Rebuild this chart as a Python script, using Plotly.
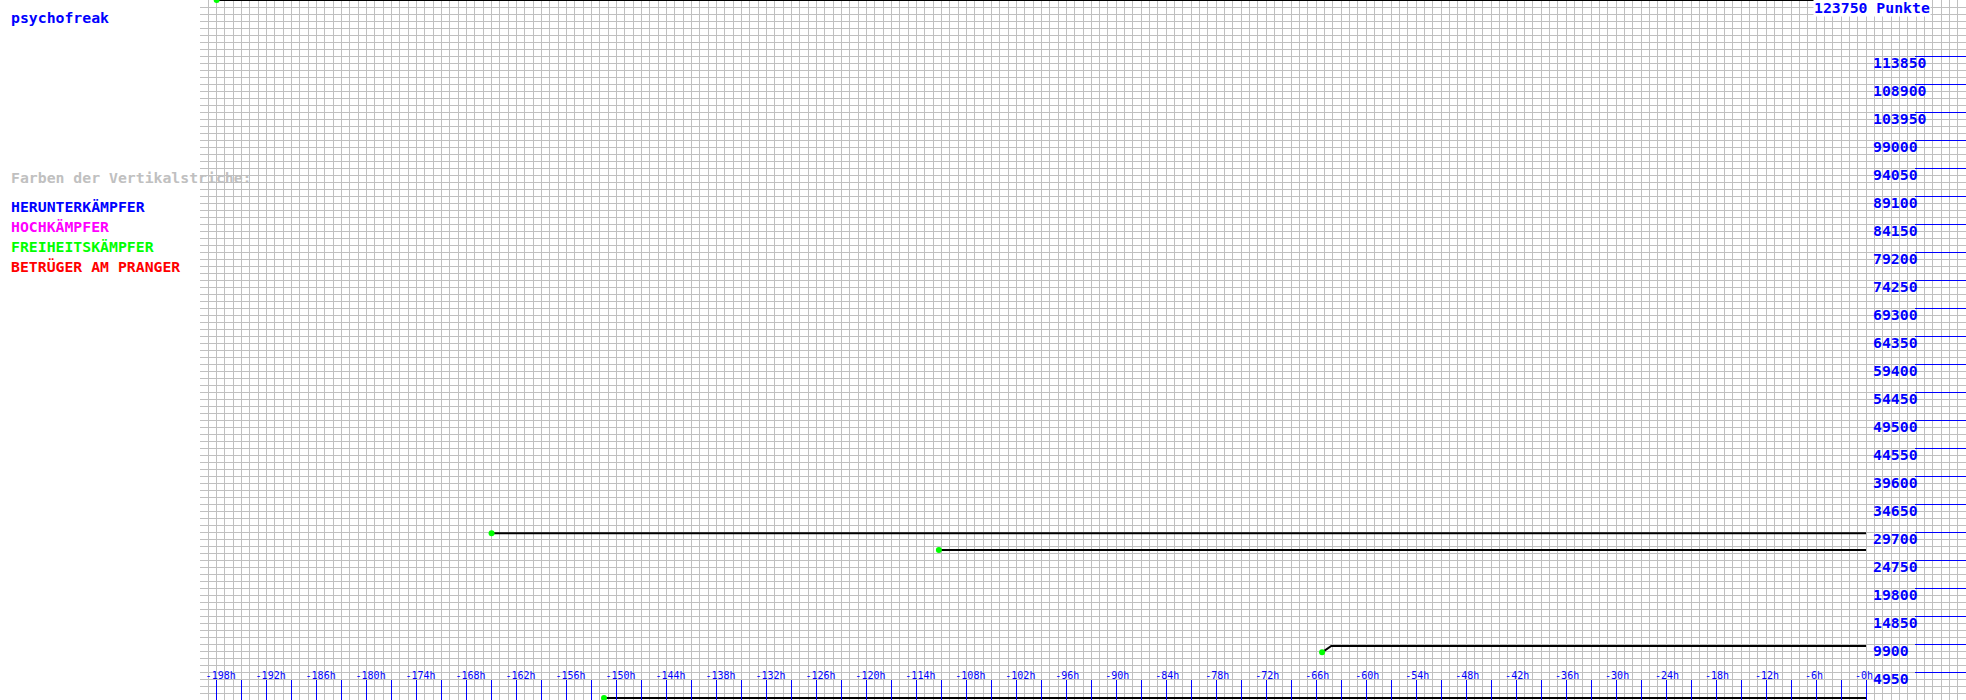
import plotly.graph_objects as go

# ---------------- data (hours before now, points) ----------------
line1_hours = [-198, 0]
line1_points = [123750, 123750]
line2_hours = [-165, 0]
line2_points = [29500, 29500]
line3_hours = [-111.3, 0]
line3_points = [26500, 26500]
line4_hours = [-65.3, -64.2, 0]
line4_points = [8430, 9550, 9550]
line5_hours = [-151.5, 0]
line5_points = [350, 350]

x_tick_hours = [-198, -195, -192, -189, -186, -183, -180, -177, -174, -171, -168, -165,
                -162, -159, -156, -153, -150, -147, -144, -141, -138, -135, -132, -129,
                -126, -123, -120, -117, -114, -111, -108, -105, -102, -99, -96, -93,
                -90, -87, -84, -81, -78, -75, -72, -69, -66, -63, -60, -57, -54, -51,
                -48, -45, -42, -39, -36, -33, -30, -27, -24, -21, -18, -15, -12, -9,
                -6, -3, 0]
x_label_hours = [-198, -192, -186, -180, -174, -168, -162, -156, -150, -144, -138, -132,
                 -126, -120, -114, -108, -102, -96, -90, -84, -78, -72, -66, -60, -54,
                 -48, -42, -36, -30, -24, -18, -12, -6, 0]
x_label_text = ["-198h", "-192h", "-186h", "-180h", "-174h", "-168h", "-162h", "-156h",
                "-150h", "-144h", "-138h", "-132h", "-126h", "-120h", "-114h", "-108h",
                "-102h", "-96h", "-90h", "-84h", "-78h", "-72h", "-66h", "-60h", "-54h",
                "-48h", "-42h", "-36h", "-30h", "-24h", "-18h", "-12h", "-6h", "-0h"]

y_tick_points = [4950, 9900, 14850, 19800, 24750, 29700, 34650, 39600, 44550, 49500,
                 54450, 59400, 64350, 69300, 74250, 79200, 84150, 89100, 94050, 99000,
                 103950, 108900, 113850]
y_max_points = 123750

player_name = "psychofreak"
legend_title = "Farben der Vertikalstriche:"
legend_items = ["HERUNTERKÄMPFER", "HOCHKÄMPFER", "FREIHEITSKÄMPFER", "BETRÜGER AM PRANGER"]
legend_colors = ["#0000ff", "#ff00ff", "#00ff00", "#ff0000"]

# ---------------- figure ----------------
MONO = "DejaVu Sans Mono"
BLUE = "#0000ff"
GRID = "#c0c0c0"
W, H, L = 1966, 700, 200
PW = W - L

fig = go.Figure()
series = [(line1_hours, line1_points), (line2_hours, line2_points),
          (line3_hours, line3_points), (line4_hours, line4_points),
          (line5_hours, line5_points)]
for hx, py in series:
    fig.add_trace(go.Scatter(x=hx, y=py, mode="lines",
                             line=dict(color="#000000", width=2),
                             hoverinfo="skip"))
fig.add_trace(go.Scatter(x=[s[0][0] for s in series], y=[s[1][0] for s in series],
                         mode="markers",
                         marker=dict(color="#00ff00", size=6, line=dict(width=0)),
                         hoverinfo="skip"))
# carrier trace for the label-only axes
fig.add_trace(go.Scatter(x=line1_hours, y=line1_points, mode="none",
                         xaxis="x2", yaxis="y2", hoverinfo="skip"))

# pad x labels to equal width so they all start at the same offset from the tick
x_ticktext = [t + "\u00a0" * (5 - len(t)) for t in x_label_text]

x_range = [-200, 12]
y_range = [0, y_max_points]

fig.update_layout(
    width=W, height=H,
    margin=dict(l=L, r=0, t=0, b=0, pad=0),
    paper_bgcolor="white", plot_bgcolor="white",
    showlegend=False,
    xaxis=dict(range=x_range, tickmode="array", tickvals=x_tick_hours,
               showticklabels=False, ticks="inside", ticklen=20, tickwidth=1,
               tickcolor=BLUE,
               showgrid=True, gridcolor=GRID, gridwidth=1,
               minor=dict(tickmode="linear", tick0=0, dtick=1, showgrid=True,
                          gridcolor=GRID, gridwidth=1, ticks=""),
               zeroline=False, showline=False, fixedrange=True),
    xaxis2=dict(range=x_range, overlaying="x", anchor="free",
                position=(H - 667.5) / H, side="bottom",
                tickmode="array", tickvals=x_label_hours, ticktext=x_ticktext,
                ticks="", ticklabelshift=4,
                tickfont=dict(family=MONO, size=10, color=BLUE),
                showgrid=False, zeroline=False, showline=False, fixedrange=True),
    yaxis=dict(range=y_range, side="right", tickmode="array",
               tickvals=y_tick_points, showticklabels=False, ticks="inside",
               ticklen=51, tickwidth=1, tickcolor=BLUE,
               showgrid=True, gridcolor=GRID, gridwidth=1,
               minor=dict(tickmode="linear", tick0=0, dtick=y_max_points / 100,
                          showgrid=True, gridcolor=GRID, gridwidth=1, ticks=""),
               zeroline=False, showline=False, fixedrange=True),
    yaxis2=dict(range=y_range, overlaying="y", anchor="free",
                position=(1872 - L) / PW, side="right",
                tickmode="array", tickvals=y_tick_points,
                ticktext=[str(v) for v in y_tick_points],
                ticks="", ticklabelshift=7,
                tickfont=dict(family=MONO, size=14.8, color=BLUE, weight="bold"),
                showgrid=False, zeroline=False, showline=False, fixedrange=True),
)

def left_text(text, color, center_px):
    fig.add_annotation(text=text, xref="paper", yref="paper", x=0, y=1,
                       xanchor="left", yanchor="middle", xshift=9 - L,
                       yshift=-center_px, showarrow=False,
                       font=dict(family=MONO, size=14.8, color=color, weight="bold"))

left_text(player_name, BLUE, 17)
left_text(legend_title, GRID, 177)
for i, (t, c) in enumerate(zip(legend_items, legend_colors)):
    left_text(t, c, 206 + 20 * i)

fig.add_annotation(text=f"{y_max_points} Punkte", xref="paper", yref="y",
                   x=1, y=y_max_points, xanchor="right", yanchor="top",
                   xshift=-35, yshift=2, showarrow=False, bgcolor="white",
                   borderpad=0,
                   font=dict(family=MONO, size=14.8, color=BLUE, weight="bold"))

fig.write_html("out.html")
